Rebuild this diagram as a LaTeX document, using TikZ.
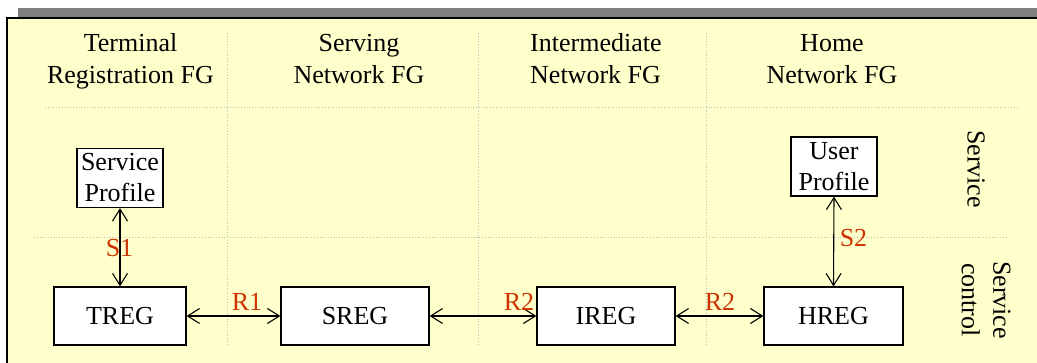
\documentclass[tikz,border=0pt]{standalone}
\usepackage{fontspec}
\setmainfont{Liberation Serif}
\usetikzlibrary{arrows.meta}
\definecolor{bgyellow}{RGB}{255,255,204}
\definecolor{shadowgray}{RGB}{128,128,128}
\definecolor{lblred}{RGB}{204,51,0}
\definecolor{gridgray}{RGB}{190,190,190}
\tikzset{
  txt/.style={font=\fontsize{26}{31.5}\selectfont, inner sep=0pt, align=center},
  regbox/.style={draw=black, line width=1.2pt, fill=white, font=\fontsize{26}{31.5}\selectfont, minimum height=58pt, inner sep=0pt},
  profbox/.style={draw=black, line width=1.2pt, fill=white, font=\fontsize{26}{31}\selectfont, align=center, inner sep=2pt, minimum width=86pt, minimum height=59pt},
  lbl/.style={text=lblred, font=\fontsize{26}{31}\selectfont, inner sep=0pt},
  conn/.style={line width=1.1pt, {Straight Barb[length=12pt,width=15pt]}-{Straight Barb[length=12pt,width=15pt]}},
  grid/.style={draw=gridgray, line width=0.8pt, dotted},
}
\begin{document}
\begin{tikzpicture}[x=1pt,y=-1pt]
\useasboundingbox (0,0) rectangle (1037,363);
\clip (0,0) rectangle (1037,363);
% shadow and panel
\fill[shadowgray] (18,8) rectangle (1060,380);
\filldraw[fill=bgyellow, draw=black, line width=1.5pt] (7,18) rectangle (1050,380);
% grid
\draw[grid] (227,33) -- (227,344);
\draw[grid] (478,33) -- (478,344);
\draw[grid] (706,33) -- (706,344);
\draw[grid] (45,107) -- (1018,107);
\draw[grid] (34,237) -- (1008,237);
% headers
\node[txt, anchor=base] (h1a) at (130.5,51.7) {Terminal};
\node[txt, anchor=base] (h1b) at (130.5,83.3) {Registration FG};
\node[txt, anchor=base] (h2a) at (359,51.7) {Serving};
\node[txt, anchor=base] (h2b) at (359,83.3) {Network FG};
\node[txt, anchor=base west] (h3a) at (530,51.7) {Intermediate};
\node[txt, anchor=base west] (h3b) at (530,83.3) {Network FG};
\node[txt, anchor=base] (h4a) at (832,51.7) {Home};
\node[txt, anchor=base] (h4b) at (832,83.3) {Network FG};
% side labels
\node[txt, rotate=-90] (svc) at (976,169) {Service};
\node[txt, rotate=-90] (svcc) at (986,300) {Service\\control};
% boxes
\node[profbox] (sp) at (120,178) {Service\\Profile};
\node[profbox] (up) at (834,166.5) {User\\Profile};
\node[regbox, minimum width=132pt] (treg) at (120,316) {TREG};
\node[regbox, minimum width=148pt] (sreg) at (355,316) {SREG};
\node[regbox, minimum width=138pt] (ireg) at (606,316) {IREG};
\node[regbox, minimum width=139pt] (hreg) at (833.5,316) {HREG};
% connectors
\draw[conn] (sp.south) -- (treg.north);
\draw[conn] (up.south) -- (hreg.north);
\draw[conn] (treg.east) -- (sreg.west);
\draw[conn] (sreg.east) -- (ireg.west);
\draw[conn] (ireg.east) -- (hreg.west);
% labels
\node[lbl] (s1) at (119.5,248.5) {S1};
\node[lbl] (s2) at (853.5,238) {S2};
\node[lbl] (r1) at (247,302) {R1};
\node[lbl] (r2a) at (519,302) {R2};
\node[lbl] (r2b) at (720,302) {R2};
\end{tikzpicture}
\end{document}
